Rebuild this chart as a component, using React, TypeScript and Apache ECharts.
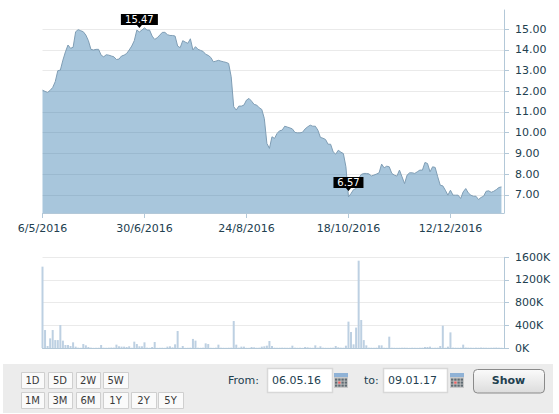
import React, { useEffect, useRef } from "react";
import * as echarts from "echarts";

const tickLabels: Record<number, string> = {
  0: "6/5/2016",
  40: "30/6/2016",
  80: "24/8/2016",
  120: "18/10/2016",
  160: "12/12/2016",
};

const prices: (number | null)[] = [
  12.05, 11.99, 11.94, 12.04, 12.18, 12.46, 12.99, 13.02, 13.5, 13.9,
  14.23, 14.07, 14.12, 14.87, 14.97, 14.92, 14.87, 14.71, 14.44, 14.02,
  13.99, 14.02, 14.02, 13.74, 13.66, 13.76, 13.74, 13.7, 13.66, 13.53,
  13.55, 13.7, 13.74, 13.82, 13.99, 14.18, 14.44, 14.95, 14.86, 14.95,
  15.06, 14.95, 14.95, 14.66, 14.5, 14.58, 14.71, 14.84, 14.84, 14.73,
  14.69, 14.69, 14.66, 14.18, 14.1, 14.44, 14.37, 14.31, 14.53, 13.99,
  14.15, 14.02, 13.97, 13.92, 13.78, 13.73, 13.63, 13.42, 13.45, 13.49,
  13.45, 13.42, 13.39, 13.34, 12.7, 11.25, 11.09, 11.28, 11.28, 11.33,
  11.57, 11.65, 11.52, 11.36, 11.33, 11.2, 11.12, 10.68, 9.48, 9.24,
  9.8, 9.72, 9.96, 10.09, 10.12, 10.31, 10.27, 10.23, 10.18, 10.01,
  9.99, 9.99, 10.02, 10.18, 10.28, 10.36, 10.31, 10.31, 10.12, 9.77,
  9.73, 9.67, 9.44, 9.44, 9.07, 8.96, 9.15, 9.06, 8.99, 8.35,
  6.9, 7.06, 7.25, 7.3, 7.79, 7.98, 8.03, 8.03, 8.01, 7.91,
  7.95, 8.0, 8.06, 8.48, 8.3, 8.38, 8.35, 8.03, 7.95, 7.9,
  8.19, 7.87, 7.54, 7.95, 8.06, 8.06, 8.03, 8.11, 8.19, 8.19,
  8.56, 8.51, 8.11, 8.35, 8.32, 7.87, 7.46, 7.43, 7.22, 6.98,
  7.22, 6.98, 6.98, 6.98, 6.82, 7.14, 7.3, 7.09, 6.98, 6.93,
  6.93, 6.77, 6.87, 6.93, 7.17, 7.19, 7.12, 7.17, 7.25, 7.35,
  7.38, null,
];

const volumes: (number | null)[] = [
  1435, 317, 35, 170, 317, 140, 140, 405, 130, 53,
  53, 35, 100, 24, 6, 4, 70, 47, 18, 6,
  3, 4, 5, 53, 5, 4, 6, 8, 7, 59,
  30, 24, 24, 18, 30, 5, 112, 70, 30, 30,
  100, 6, 4, 18, 106, 3, 4, 5, 3, 24,
  30, 12, 65, 300, 4, 35, 3, 4, 6, 160,
  130, 5, 4, 6, 82, 70, 4, 3, 6, 59,
  5, 4, 3, 5, 6, 476, 59, 6, 24, 24,
  4, 3, 18, 12, 4, 6, 24, 30, 41, 124,
  35, 6, 4, 5, 6, 5, 4, 5, 41, 6,
  4, 5, 3, 18, 12, 6, 4, 47, 6, 30,
  5, 4, 3, 5, 6, 35, 12, 6, 5, 41,
  465, 282, 65, 360, 1540, 494, 140, 47, 6, 5,
  4, 6, 47, 47, 5, 4, 200, 5, 4, 3,
  4, 5, 6, 4, 3, 5, 4, 3, 5, 6,
  18, 18, 24, 4, 5, 6, 35, 394, 5, 24,
  276, 6, 5, 4, 6, 59, 8, 6, 5, 4,
  6, 5, 8, 6, 5, 4, 5, 6, 8, 5, 4, null,
];

const priceTicks = [7, 8, 9, 10, 11, 12, 13, 14, 15];
const rangeRow1 = ["1D", "5D", "2W", "5W"];
const rangeRow2 = ["1M", "3M", "6M", "1Y", "2Y", "5Y"];
const maxLabel = "15.47";
const minLabel = "6.57";
const fromLabel = "From:";
const toLabel = "to:";
const fromDate = "06.05.16";
const toDate = "09.01.17";
const showLabel = "Show";

const priceCategories = prices.map((_, i) => tickLabels[i] ?? String(i));

const TEXT = "#22404f";
const AXIS = "#b3c8d8";
const GRID = "#eaeaea";
const FONT = "'DejaVu Sans', Verdana, sans-serif";

function button(x: number, y: number, w: number, label: string) {
  return [
    { type: "rect", shape: { x: x + 0.5, y: y + 0.5, width: w, height: 16 }, style: { fill: "#fafafa", stroke: "#cfcfcf", lineWidth: 1 } },
    { type: "text", x: x + w / 2, y: y + 8.5, style: { text: label, fill: "#3a3a3a", font: `10px ${FONT}`, align: "center", verticalAlign: "middle" } },
  ];
}

function calendar(x: number, y: number) {
  const out: any[] = [
    { type: "rect", shape: { x, y, width: 14, height: 15 }, style: { fill: "#c9c9c9" } },
    { type: "rect", shape: { x, y, width: 14, height: 4 }, style: { fill: "#8fb2d6" } },
  ];
  for (let r = 0; r < 3; r++) {
    for (let c = 0; c < 4; c++) {
      out.push({
        type: "rect",
        shape: { x: x + 1 + c * 3.2, y: y + 5.5 + r * 3, width: 2.4, height: 2.2 },
        style: { fill: r === 1 && c === 1 ? "#f06060" : "#5f6b72" },
      });
    }
  }
  return out;
}

function input(x: number, w: number, label: string, tx: number) {
  return [
    { type: "rect", shape: { x: x + 0.5, y: 368.5, width: w, height: 24 }, style: { fill: "#ffffff", stroke: "#d8d8d8", lineWidth: 1.5 } },
    { type: "text", x: tx, y: 380.5, style: { text: label, fill: TEXT, font: `11px ${FONT}`, align: "left", verticalAlign: "middle" } },
  ];
}

function marker(index: number, value: number, width: number, label: string) {
  const half = width / 2;
  return {
    coord: [index, value],
    symbol: `path://M0,0H${width}V11H${half + 2.5}L${half},14L${half - 2.5},11H0Z`,
    symbolSize: [width, 14],
    symbolOffset: [0, -7],
    label: {
      show: true,
      formatter: label,
      position: "inside",
      offset: [0, -1.5],
      color: "#ffffff",
      fontFamily: FONT,
      fontSize: 10,
    },
    itemStyle: { color: "#000000" },
  };
}

export default function App() {
  const ref = useRef<HTMLDivElement>(null);

  useEffect(() => {
    document.body.style.margin = "0";
    const chart = echarts.init(ref.current!, undefined, { renderer: "svg" });

    const panel: any[] = [
      { type: "rect", z: -1, shape: { x: 3, y: 364, width: 550, height: 49 }, style: { fill: "#ececec" } },
    ];
    const xs1 = [21, 48, 76, 103];
    const ws1 = [23, 24, 24, 25];
    rangeRow1.forEach((t, i) => panel.push(...button(xs1[i], 372, ws1[i], t)));
    const xs2 = [21, 48, 76, 103, 131, 158];
    const ws2 = [23, 24, 24, 25, 25, 25];
    rangeRow2.forEach((t, i) => panel.push(...button(xs2[i], 392, ws2[i], t)));
    panel.push(
      { type: "text", x: 228, y: 380.5, style: { text: fromLabel, fill: TEXT, font: `11px ${FONT}`, verticalAlign: "middle" } },
      ...input(267, 65, fromDate, 272),
      ...calendar(334, 373),
      { type: "text", x: 364, y: 380.5, style: { text: toLabel, fill: TEXT, font: `11px ${FONT}`, verticalAlign: "middle" } },
      ...input(383, 64, toDate, 388),
      ...calendar(450, 373),
      {
        type: "rect",
        shape: { x: 473.5, y: 369.5, width: 71, height: 23.5, r: 4 },
        style: {
          stroke: "#8a8a8a",
          lineWidth: 1,
          fill: new echarts.graphic.LinearGradient(0, 0, 0, 1, [
            { offset: 0, color: "#fbfbfb" },
            { offset: 1, color: "#dcdcdc" },
          ]),
        },
      },
      { type: "text", x: 508.5, y: 380.5, style: { text: showLabel, fill: TEXT, font: `bold 11px ${FONT}`, align: "center", verticalAlign: "middle" } }
    );

    chart.setOption({
      animation: false,
      backgroundColor: "#ffffff",
      textStyle: { fontFamily: FONT },
      graphic: panel,
      grid: [
        { left: 42.5, width: 461.5, top: 10, height: 203 },
        { left: 42.5, width: 461.5, top: 257.3, height: 90.7 },
      ],
      xAxis: [
        {
          type: "category",
          gridIndex: 0,
          data: priceCategories,
          boundaryGap: false,
          axisLine: { lineStyle: { color: AXIS } },
          axisTick: { show: true, length: 5, lineStyle: { color: AXIS }, interval: (i: number) => tickLabels[i] !== undefined },
          axisLabel: {
            show: true,
            color: TEXT,
            fontSize: 11,
            fontFamily: FONT,
            margin: 10,
            hideOverlap: false,
            interval: (i: number) => tickLabels[i] !== undefined,
          },
          splitLine: { show: false },
        },
        {
          type: "category",
          gridIndex: 1,
          data: priceCategories,
          boundaryGap: false,
          axisLine: { lineStyle: { color: AXIS } },
          axisTick: { show: false },
          axisLabel: { show: false },
          splitLine: { show: false },
        },
      ],
      yAxis: [
        {
          type: "value",
          gridIndex: 0,
          position: "right",
          min: 6.12,
          max: 15.92,
          axisLine: { show: true, lineStyle: { color: AXIS } },
          axisTick: { show: true, length: 5, lineStyle: { color: AXIS }, customValues: priceTicks },
          axisLabel: {
            color: TEXT,
            fontSize: 11,
            fontFamily: FONT,
            margin: 11,
            customValues: priceTicks,
            formatter: (v: number) => v.toFixed(2),
          },
          splitLine: { show: true, lineStyle: { color: GRID } },
        },
        {
          type: "value",
          gridIndex: 1,
          position: "right",
          min: 0,
          max: 1600,
          interval: 400,
          axisLine: { show: true, lineStyle: { color: AXIS } },
          axisTick: { show: true, length: 5, lineStyle: { color: AXIS } },
          axisLabel: {
            color: TEXT,
            fontSize: 11,
            fontFamily: FONT,
            margin: 11,
            formatter: (v: number) => `${v}K`,
          },
          splitLine: { show: true, lineStyle: { color: GRID } },
        },
      ],
      series: [
        {
          type: "line",
          xAxisIndex: 0,
          yAxisIndex: 0,
          data: prices,
          showSymbol: false,
          smooth: false,
          connectNulls: false,
          lineStyle: { color: "#7f9db4", width: 1 },
          areaStyle: { color: "rgba(38,112,167,0.4)", opacity: 1, origin: "start" },
          markPoint: {
            silent: true,
            data: [marker(38, 15.05, 37, maxLabel), marker(120, 7.18, 30, minLabel)],
          },
        },
        {
          type: "bar",
          xAxisIndex: 1,
          yAxisIndex: 1,
          data: volumes,
          barWidth: 2,
          clip: false,
          itemStyle: { color: "#bdd0e2" },
        },
      ],
    });

    return () => chart.dispose();
  }, []);

  return <div ref={ref} style={{ width: 559, height: 414 }} />;
}
